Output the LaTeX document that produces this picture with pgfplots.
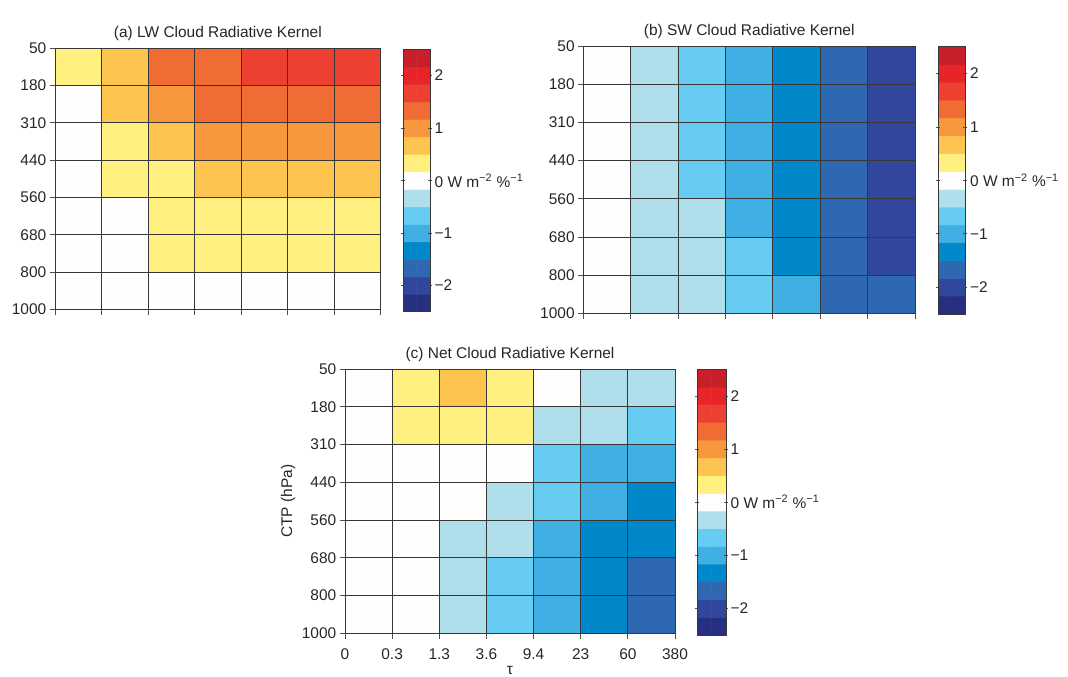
\documentclass[border=0pt]{standalone}
\usepackage{fontspec}
\setmainfont{Liberation Sans}
\usepackage{pgfplots}
\usepackage{pgfplotstable}
\pgfplotsset{compat=1.18}

\definecolor{gridc}{RGB}{55,55,55}
\definecolor{tickc}{RGB}{80,80,80}

% LW kernel, W m^-2 %^-1 ; x = tau bin centre, y = CTP bin centre (0 = 1000-800 hPa)
\pgfplotstableread{
x y c
0.5 6.5 0.35
1.5 6.5 0.70
2.5 6.5 1.30
3.5 6.5 1.35
4.5 6.5 1.70
5.5 6.5 1.72
6.5 6.5 1.75
0.5 5.5 0.00
1.5 5.5 0.68
2.5 5.5 1.05
3.5 5.5 1.30
4.5 5.5 1.35
5.5 5.5 1.38
6.5 5.5 1.40
0.5 4.5 0.05
1.5 4.5 0.40
2.5 4.5 0.72
3.5 4.5 1.00
4.5 4.5 1.05
5.5 4.5 1.08
6.5 4.5 1.10
0.5 3.5 0.05
1.5 3.5 0.35
2.5 3.5 0.45
3.5 3.5 0.70
4.5 3.5 0.72
5.5 3.5 0.75
6.5 3.5 0.78
0.5 2.5 0.02
1.5 2.5 0.10
2.5 2.5 0.35
3.5 2.5 0.38
4.5 2.5 0.40
5.5 2.5 0.42
6.5 2.5 0.45
0.5 1.5 0.02
1.5 1.5 0.08
2.5 1.5 0.30
3.5 1.5 0.33
4.5 1.5 0.35
5.5 1.5 0.37
6.5 1.5 0.40
0.5 0.5 0.00
1.5 0.5 0.02
2.5 0.5 0.05
3.5 0.5 0.06
4.5 0.5 0.08
5.5 0.5 0.10
6.5 0.5 0.12
}\lwdata

% SW kernel
\pgfplotstableread{
x y c
0.5 6.5 -0.02
1.5 6.5 -0.35
2.5 6.5 -0.68
3.5 6.5 -1.02
4.5 6.5 -1.35
5.5 6.5 -1.68
6.5 6.5 -2.02
0.5 5.5 -0.02
1.5 5.5 -0.35
2.5 5.5 -0.66
3.5 5.5 -1.00
4.5 5.5 -1.33
5.5 5.5 -1.66
6.5 5.5 -2.00
0.5 4.5 -0.02
1.5 4.5 -0.34
2.5 4.5 -0.64
3.5 4.5 -0.98
4.5 4.5 -1.30
5.5 4.5 -1.64
6.5 4.5 -1.98
0.5 3.5 -0.02
1.5 3.5 -0.33
2.5 3.5 -0.60
3.5 3.5 -0.95
4.5 3.5 -1.28
5.5 3.5 -1.62
6.5 3.5 -1.95
0.5 2.5 -0.02
1.5 2.5 -0.32
2.5 2.5 -0.45
3.5 2.5 -0.92
4.5 2.5 -1.25
5.5 2.5 -1.60
6.5 2.5 -1.92
0.5 1.5 -0.02
1.5 1.5 -0.30
2.5 1.5 -0.42
3.5 1.5 -0.80
4.5 1.5 -1.22
5.5 1.5 -1.58
6.5 1.5 -1.88
0.5 0.5 -0.01
1.5 0.5 -0.28
2.5 0.5 -0.40
3.5 0.5 -0.75
4.5 0.5 -1.10
5.5 0.5 -1.55
6.5 0.5 -1.80
}\swdata

% Net kernel
\pgfplotstableread{
x y c
0.5 6.5 0.05
1.5 6.5 0.35
2.5 6.5 0.60
3.5 6.5 0.30
4.5 6.5 -0.10
5.5 6.5 -0.30
6.5 6.5 -0.35
0.5 5.5 0.03
1.5 5.5 0.30
2.5 5.5 0.35
3.5 5.5 0.25
4.5 5.5 -0.30
5.5 5.5 -0.35
6.5 5.5 -0.55
0.5 4.5 0.02
1.5 4.5 0.05
2.5 4.5 0.00
3.5 4.5 -0.10
4.5 4.5 -0.60
5.5 4.5 -0.90
6.5 4.5 -0.95
0.5 3.5 0.01
1.5 3.5 0.02
2.5 3.5 -0.05
3.5 3.5 -0.35
4.5 3.5 -0.70
5.5 3.5 -0.95
6.5 3.5 -1.25
0.5 2.5 0.00
1.5 2.5 -0.02
2.5 2.5 -0.20
3.5 2.5 -0.30
4.5 2.5 -0.90
5.5 2.5 -1.25
6.5 2.5 -1.30
0.5 1.5 0.00
1.5 1.5 -0.03
2.5 1.5 -0.25
3.5 1.5 -0.55
4.5 1.5 -0.95
5.5 1.5 -1.30
6.5 1.5 -1.55
0.5 0.5 0.00
1.5 0.5 -0.02
2.5 0.5 -0.25
3.5 0.5 -0.60
4.5 0.5 -0.98
5.5 0.5 -1.30
6.5 0.5 -1.60
}\netdata

% colour bar: one band per contour level
\pgfplotstableread{
x y c
0.25 -2.3333 -2.3333
0.75 -2.3333 -2.3333
0.25 -2.0 -2.0
0.75 -2.0 -2.0
0.25 -1.6667 -1.6667
0.75 -1.6667 -1.6667
0.25 -1.3333 -1.3333
0.75 -1.3333 -1.3333
0.25 -1.0 -1.0
0.75 -1.0 -1.0
0.25 -0.6667 -0.6667
0.75 -0.6667 -0.6667
0.25 -0.3333 -0.3333
0.75 -0.3333 -0.3333
0.25 0.0 0.0
0.75 0.0 0.0
0.25 0.3333 0.3333
0.75 0.3333 0.3333
0.25 0.6667 0.6667
0.75 0.6667 0.6667
0.25 1.0 1.0
0.75 1.0 1.0
0.25 1.3333 1.3333
0.75 1.3333 1.3333
0.25 1.6667 1.6667
0.75 1.6667 1.6667
0.25 2.0 2.0
0.75 2.0 2.0
0.25 2.3333 2.3333
0.75 2.3333 2.3333
}\cbdata

\newcommand\lblfont{\fontsize{11.6}{13}\selectfont}

\pgfplotsset{
  kernelmap/.style={
    colormap={kern}{
      rgb255=(40,46,128) rgb255=(49,71,157) rgb255=(46,104,176)
      rgb255=(0,136,202) rgb255=(64,176,228) rgb255=(102,204,242)
      rgb255=(176,223,236) rgb255=(254,254,254) rgb255=(255,240,128)
      rgb255=(253,196,80) rgb255=(247,152,62) rgb255=(241,108,52)
      rgb255=(238,64,48) rgb255=(232,36,40) rgb255=(200,32,42)},
    colormap access=piecewise constant,
    point meta min=-2.5, point meta max=2.5,
  },
  kpanel/.style={
    scale only axis,
    xmin=0, xmax=7, ymin=0, ymax=7,
    enlargelimits=false,
    xtick={0,...,7}, ytick={0,...,7},
    yticklabels={1000,800,680,560,440,310,180,50},
    xticklabels={},
    xtick pos=left, ytick pos=left,
    tick align=outside,
    major tick length=4pt,
    grid=major,
    grid style={line width=0.65pt, draw=gridc},
    axis line style={line width=0.65pt, draw=gridc},
    tick style={line width=0.65pt, draw=tickc},
    axis on top,
    kernelmap,
    tick label style={font=\lblfont, text=black!85},
    yticklabel style={xshift=1pt},
    xticklabel style={yshift=-4pt},
    title style={font=\lblfont, text=black!85, yshift=-4pt},
    label style={font=\lblfont, text=black!85},
  },
  cbar/.style={
    scale only axis,
    xmin=0, xmax=1, ymin=-2.5, ymax=2.5,
    enlargelimits=false,
    xtick=\empty,
    ytick={-2,-1,0,1,2},
    yticklabels={−2,−1,0 W m\textsuperscript{−2} \%\textsuperscript{−1},1,2},
    ytick pos=both, yticklabel pos=right,
    tick align=center,
    major tick length=3pt,
    axis line style={line width=0.65pt, draw=gridc},
    tick style={line width=0.5pt, draw=tickc},
    axis on top,
    kernelmap,
    yticklabel style={font=\lblfont, text=black!85, xshift=-1.5pt},
  },
}

\begin{document}
\begin{tikzpicture}
\path[use as bounding box] (0pt,0pt) rectangle (801pt,507pt);

% (a) longwave
\begin{axis}[kpanel, at={(41.25pt,275pt)}, anchor=south west,
  width=244.3pt, height=195.8pt,
  title={(a) LW Cloud Radiative Kernel}]
  \addplot[matrix plot*, mesh/cols=7, point meta=explicit] table[meta=c] {\lwdata};
\end{axis}
\begin{axis}[cbar, at={(302.5pt,273.2pt)}, anchor=south west,
  width=20pt, height=196.8pt]
  \addplot[matrix plot*, mesh/cols=2, point meta=explicit] table[meta=c] {\cbdata};
\end{axis}

% (b) shortwave
\begin{axis}[kpanel, at={(437.5pt,272pt)}, anchor=south west,
  width=248.8pt, height=200.5pt,
  title={(b) SW Cloud Radiative Kernel}]
  \addplot[matrix plot*, mesh/cols=7, point meta=explicit] table[meta=c] {\swdata};
\end{axis}
\begin{axis}[cbar, at={(703.7pt,271.5pt)}, anchor=south west,
  width=20.4pt, height=200.5pt]
  \addplot[matrix plot*, mesh/cols=2, point meta=explicit] table[meta=c] {\cbdata};
\end{axis}

% (c) net
\begin{axis}[kpanel, at={(258.75pt,32pt)}, anchor=south west,
  width=247.5pt, height=198.2pt,
  xticklabels={0,0.3,1.3,3.6,9.4,23,60,380},
  xlabel={τ}, ylabel={CTP (hPa)},
  xlabel style={yshift=2pt},
  ylabel style={yshift=-2pt},
  title={(c) Net Cloud Radiative Kernel}]
  \addplot[matrix plot*, mesh/cols=7, point meta=explicit] table[meta=c] {\netdata};
\end{axis}
\begin{axis}[cbar, at={(523pt,30.75pt)}, anchor=south west,
  width=21.5pt, height=199.3pt]
  \addplot[matrix plot*, mesh/cols=2, point meta=explicit] table[meta=c] {\cbdata};
\end{axis}
\end{tikzpicture}
\end{document}
